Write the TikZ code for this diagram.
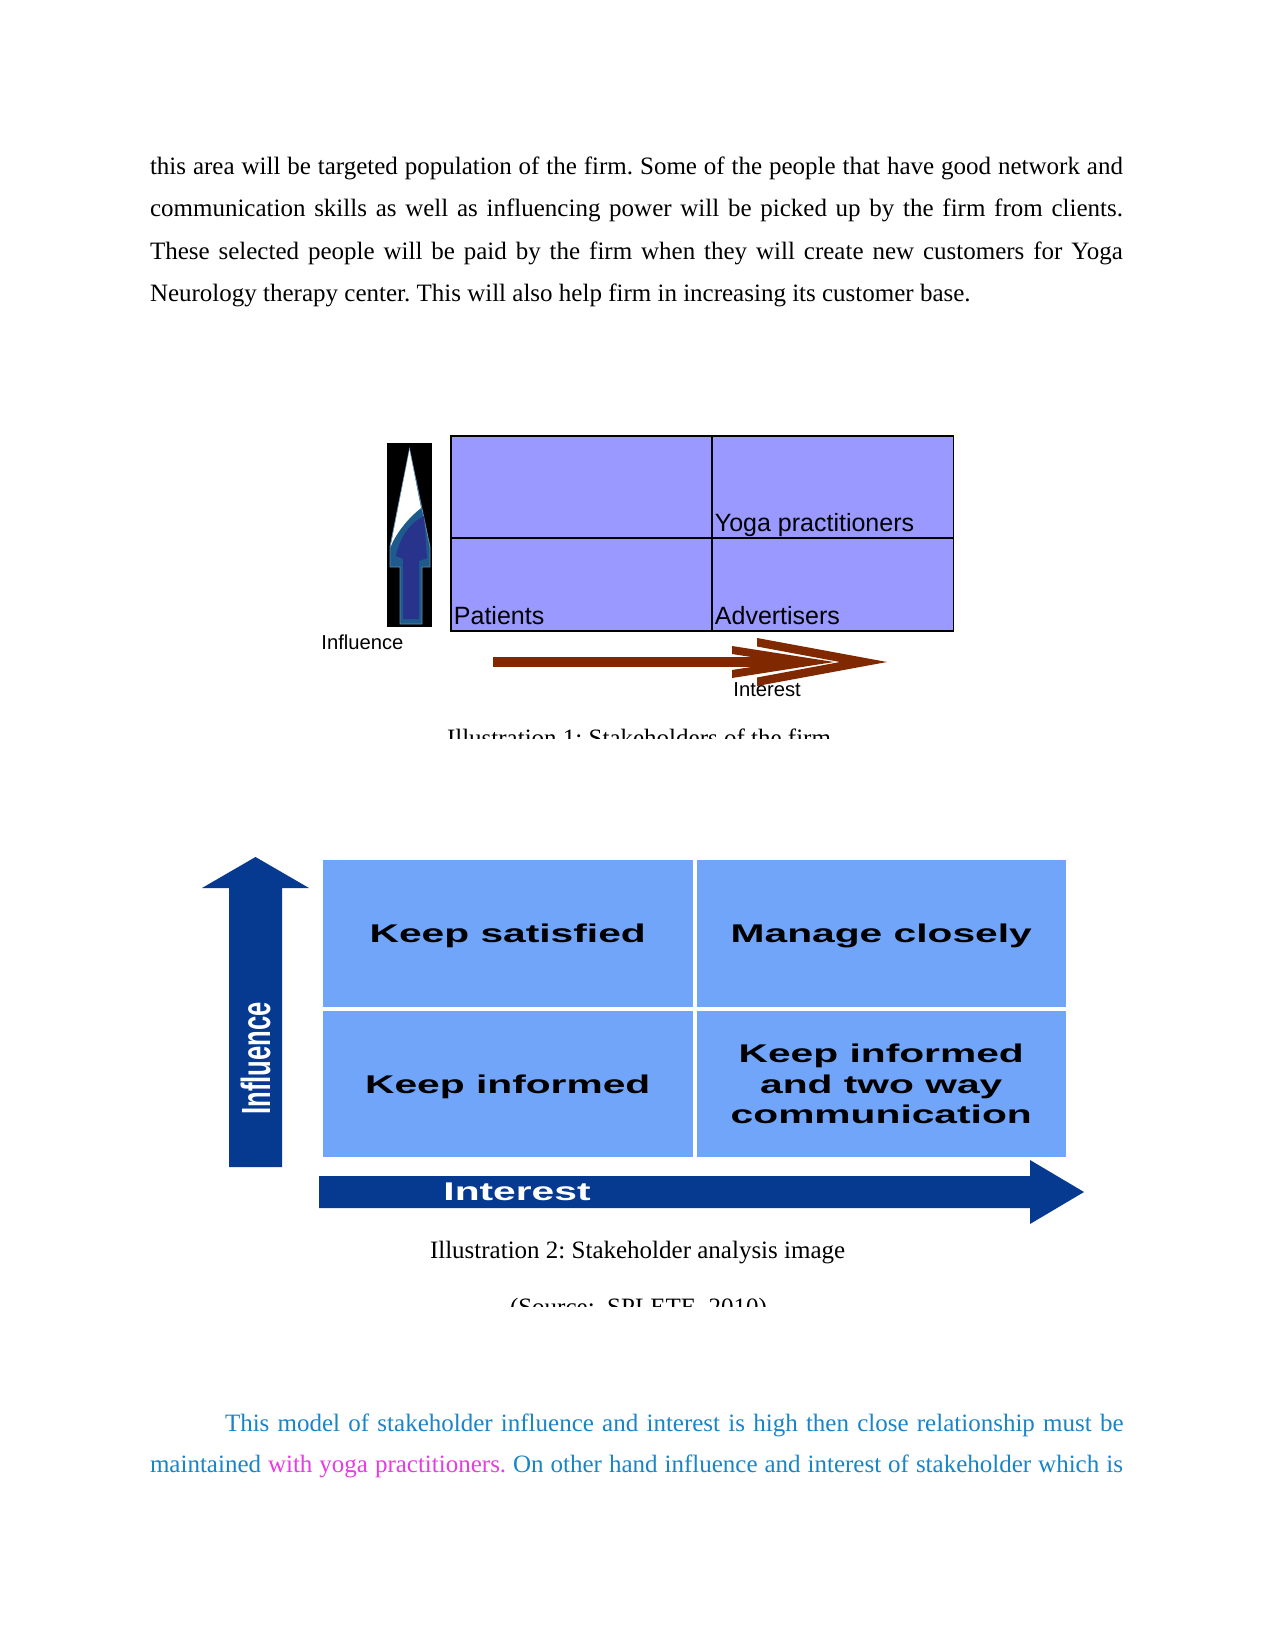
\documentclass[tikz,border=0pt]{standalone}
\usepackage{fontspec}
\setmainfont{Liberation Serif}
\setsansfont{Liberation Sans}
\usepackage{graphicx}
\usepackage{tikz}
\usetikzlibrary{positioning, calc}

\definecolor{lavender}{RGB}{153,153,255}
\definecolor{rustbrown}{RGB}{128,40,0}
\definecolor{cellblue}{RGB}{113,165,250}
\definecolor{axisblue}{RGB}{6,58,145}
\definecolor{spearteal}{RGB}{30,90,140}
\definecolor{spearnavy}{RGB}{40,52,140}
\definecolor{textblue}{RGB}{24,133,200}
\definecolor{textpink}{RGB}{230,60,225}

\newcommand{\widetxt}[1]{\scalebox{1.59}[1]{#1}}
\frenchspacing

\begin{document}
\begin{tikzpicture}[
  x=0.48pt, y=-0.48pt,
  bodyline/.style = {
    anchor=base west, inner sep=0pt, outer sep=0pt,
    font=\fontsize{12pt}{14pt}\selectfont
  },
  quadcell/.style = {
    rectangle, draw=black, line width=0.5pt, fill=lavender,
    inner sep=0pt, outer sep=0pt
  },
  quadlabel/.style = {
    anchor=base west, inner sep=0pt,
    font=\sffamily\fontsize{12pt}{14pt}\selectfont
  },
  axislabel/.style = {
    anchor=west, inner sep=0pt,
    font=\sffamily\fontsize{9.7pt}{11pt}\selectfont
  },
  gridbox/.style = {
    rectangle, fill=cellblue, inner sep=0pt, outer sep=0pt,
    minimum width=177.36pt, minimum height=70.32pt, align=center,
    text depth=0pt,
    font=\sffamily\bfseries\fontsize{12.3pt}{14.6pt}\selectfont
  },
  axistext/.style = {
    inner sep=0pt, text=white,
    font=\sffamily\bfseries\fontsize{12.3pt}{14pt}\selectfont
  }
]

% ====== PAGE ======
\fill[white] (0,0) rectangle (1275,1650);
\useasboundingbox (0,0) rectangle (1275,1650);

% ====== TOP PARAGRAPH ======
\node[bodyline] (p1) at (150,174.2) {\makebox[467pt][s]{this area will be targeted population of the firm. Some of the people that have good network and}};
\node[bodyline] (p2) at (150,216.7) {\makebox[467pt][s]{communication skills as well as influencing power will be picked up by the firm from clients.}};
\node[bodyline] (p3) at (150,259.2) {\makebox[467pt][s]{These selected people will be paid by the firm when they will create new customers for Yoga}};
\node[bodyline] (p4) at (150,301.7) {Neurology therapy center. This will also help firm in increasing its customer base.};

% ====== ILLUSTRATION 1 (quadrants) ======
\node[quadcell, minimum width=125.28pt, minimum height=48.96pt,
      anchor=north west] (empty) at (451,436) {};
\node[quadcell, minimum width=115.68pt, minimum height=48.96pt,
      right=0pt of empty] (yoga) {};
\node[quadcell, minimum width=125.28pt, minimum height=44.64pt,
      below=0pt of empty] (patients) {};
\node[quadcell, minimum width=115.68pt, minimum height=44.64pt,
      right=0pt of patients] (advert) {};

\node[quadlabel] (yogatxt) at ($(yoga.south west)+(2.5,-7)$) {Yoga practitioners};
\node[quadlabel] (pattxt) at ($(patients.south west)+(2.5,-7)$) {Patients};
\node[quadlabel] (advtxt) at ($(advert.south west)+(2.5,-7)$) {Advertisers};

% influence spear on black
\fill[black] (387,443) rectangle (432,627);
\fill[spearteal, draw=spearteal!70!white, line width=0.4pt]
  (409.5,449) -- (430,547) -- (430,567) -- (422,567) -- (422,624)
  -- (400,624) -- (400,567) -- (390,567) -- (390,547) -- cycle;
\fill[spearnavy]
  (424,516) -- (427,558) -- (419,561) -- (419,619) -- (403,619)
  -- (403,559) -- (396,556) .. controls (399,540) and (408,524) .. cycle;
\fill[white]
  (409.5,450) -- (421,508) .. controls (408,518) and (396,533) .. (390.5,547) -- cycle;
\node[axislabel] (inflabel) at (321,642) {Influence};

% interest arrow (double chevron)
\fill[rustbrown] (493,657) rectangle (790,667);
\fill[rustbrown] (732,646) -- (834,662) -- (732,678) -- (732,670)
  -- (783,662) -- (732,654) -- cycle;
\fill[rustbrown] (757,638) -- (887,662) -- (757,686) -- (757,677.5)
  -- (840,662) -- (757,646.5) -- cycle;
\node[axislabel] (intlabel) at (733,690) {Interest};

% caption, cut off at the bottom
\begin{scope}
  \clip (300,700) rectangle (1000,738.3);
  \node[bodyline] (cap1) at (447,746.5) {Illustration 1: Stakeholders of the firm};
\end{scope}

% ====== ILLUSTRATION 2 (stakeholder grid) ======
\node[gridbox, anchor=north west] (ks) at (323,860) {\widetxt{Keep satisfied}};
\node[gridbox, right=1.92pt of ks] (mc) {\widetxt{Manage closely}};
\node[gridbox, below=1.92pt of ks] (ki) {\widetxt{Keep informed}};
\node[gridbox, right=1.92pt of ki] (kt) {\widetxt{Keep informed}\\
  \widetxt{and two way}\\ \widetxt{communication}};

% axes
\fill[axisblue] (229,1167) -- (229,888) -- (202,888) -- (255.5,857)
  -- (309,888) -- (282,888) -- (282,1167) -- cycle;
\node[axistext, rotate=90] (infl2) at (255.5,1058.5) {\scalebox{1}[1.59]{Influence}};

\fill[axisblue] (319,1176) -- (1030,1176) -- (1030,1160) -- (1084,1192)
  -- (1030,1224) -- (1030,1208) -- (319,1208) -- cycle;
\node[axistext, anchor=west] (int2) at (443,1192) {\widetxt{Interest}};

% caption and source
\node[bodyline] (cap2) at (430,1258) {Illustration 2: Stakeholder analysis image};
\begin{scope}
  \clip (300,1280) rectangle (1000,1306.7);
  \node[bodyline] (src) at (510,1315) {(Source:\ \ SPLETE, 2010)};
\end{scope}

% ====== BOTTOM PARAGRAPH ======
\node[bodyline, text=textblue] (q1) at (225,1431) {\makebox[431.3pt][s]{This model of stakeholder influence and interest is high then close relationship must be}};
\node[bodyline, text=textblue] (q2) at (150,1472.5) {\makebox[467pt][s]{maintained \textcolor{textpink}{with yoga practitioners.} On other hand influence and interest of stakeholder which is}};

\end{tikzpicture}
\end{document}
